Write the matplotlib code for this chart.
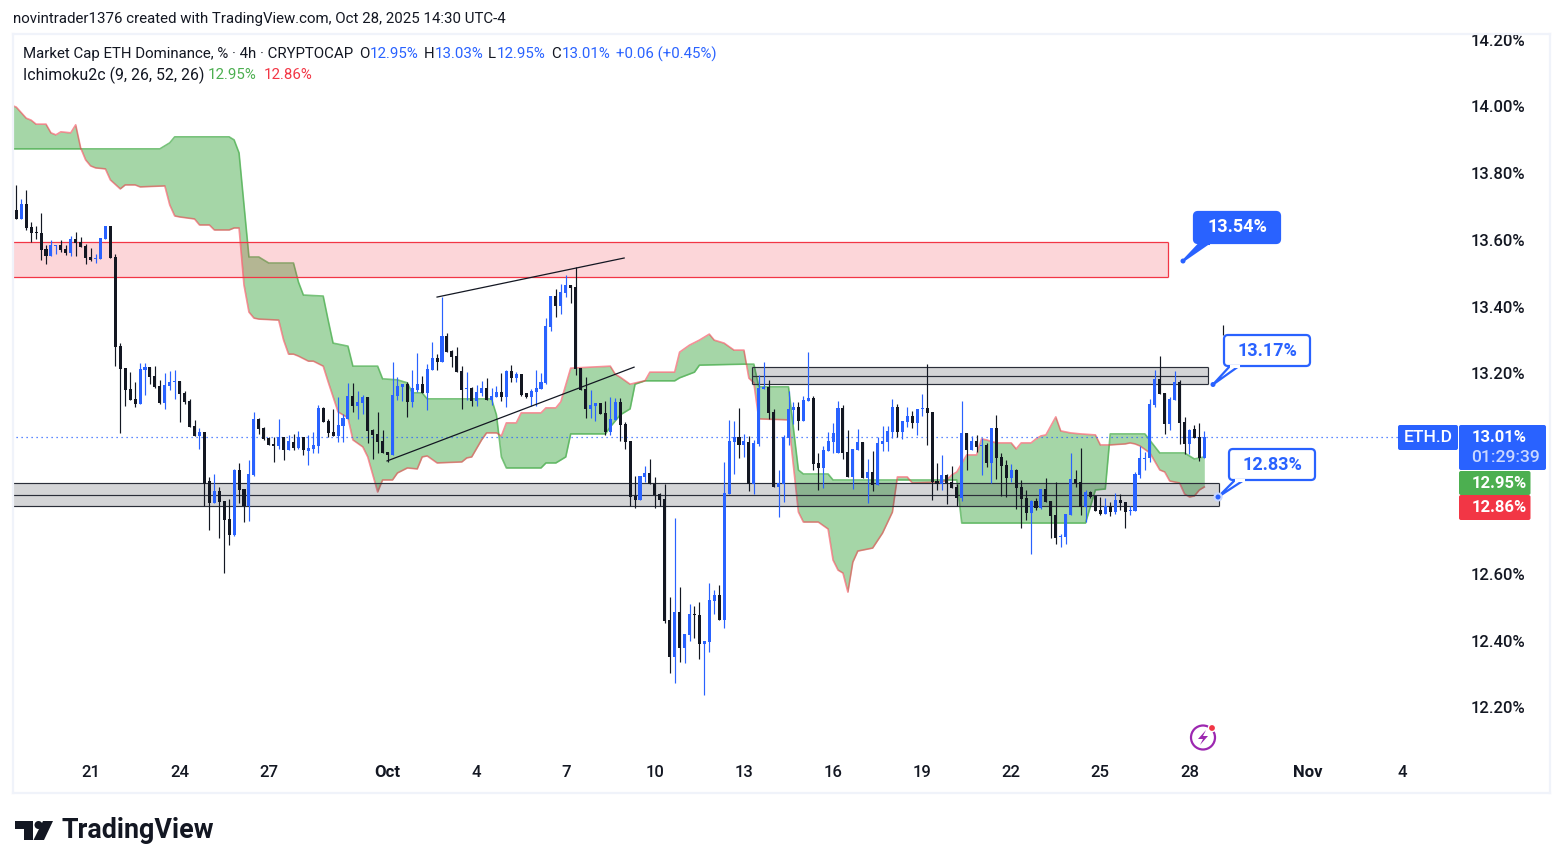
import numpy as np
import matplotlib
matplotlib.use("Agg")
import matplotlib.pyplot as plt
from matplotlib.patches import Rectangle, Polygon, Circle, FancyBboxPatch

plt.rcParams['font.family'] = ['Roboto', 'DejaVu Sans']

# ---- data -------------------------------------------------------------
opens = [13.690,13.663,13.708,13.639,13.624,13.621,13.573,13.552,13.583,13.585,13.573,13.561,13.603,13.594,13.582,13.549,13.544,13.543,13.603,13.642,13.549,
 13.282,13.216,13.153,13.123,13.108,13.210,13.219,13.192,13.162,13.111,13.162,13.174,13.177,13.141,13.117,13.042,13.012,13.024,12.877,12.811,12.847,12.817,12.763,12.715,12.910,12.853,12.802,12.895,13.063,13.036,13.006,12.988,12.982,13.009,12.970,12.994,12.976,13.009,12.967,12.973,12.982,13.096,13.057,13.024,13.012,13.042,13.063,13.132,13.102,13.111,13.129,13.030,13.018,12.997,12.964,12.955,
 13.132,13.159,13.168,13.114,13.150,13.168,13.141,13.210,13.246,13.234,13.312,13.267,13.252,13.207,13.153,13.156,13.117,13.141,13.156,13.120,13.129,13.144,13.129,13.207,13.186,13.198,13.141,13.129,13.144,13.153,13.171,13.339,13.432,13.402,13.441,13.465,13.459,13.216,13.153,13.093,13.102,13.111,13.081,13.024,13.060,13.114,13.048,
 12.997,12.832,12.820,12.889,12.901,12.870,12.838,12.823,12.460,12.352,12.484,12.379,12.418,12.478,12.475,12.391,12.397,12.517,12.535,12.460,12.838,12.994,13.009,
 12.985,12.994,12.868,12.988,13.153,13.159,13.084,12.859,12.868,13.006,13.090,13.099,13.057,13.117,13.126,12.931,12.916,12.967,12.994,12.961,13.096,12.964,12.889,12.970,12.994,12.886,12.904,12.865,12.988,12.994,13.024,13.099,13.024,13.054,13.072,13.051,13.093,13.096,13.084,12.877,12.868,12.895,12.874,
 12.859,12.826,13.021,12.970,12.997,12.982,12.985,12.931,13.036,12.949,12.925,12.886,12.910,12.859,12.826,12.781,12.817,12.796,12.853,12.817,12.775,12.709,12.709,12.775,12.883,12.874,12.799,12.844,12.832,12.790,12.778,12.802,12.784,12.820,12.814,12.787,12.787,12.895,12.943,
 12.946,13.105,13.183,13.141,13.048,13.120,13.174,13.054,12.988,13.033,13.009,12.946]
highs = [13.765,13.723,13.750,13.654,13.642,13.681,13.585,13.600,13.585,13.600,13.585,13.612,13.624,13.609,13.588,13.576,13.558,13.606,13.642,13.642,13.558,
 13.290,13.216,13.204,13.174,13.231,13.231,13.219,13.222,13.180,13.201,13.207,13.210,13.177,13.147,13.123,13.060,13.036,13.024,12.889,12.898,12.859,12.817,12.823,12.913,12.931,12.853,12.940,13.084,13.066,13.039,13.009,13.009,13.063,13.009,13.015,13.018,13.027,13.009,13.015,13.024,13.105,13.099,13.063,13.093,13.129,13.078,13.171,13.171,13.147,13.135,13.129,13.033,13.084,13.030,12.964,13.234,
 13.189,13.168,13.174,13.210,13.261,13.192,13.228,13.294,13.258,13.429,13.321,13.270,13.279,13.222,13.204,13.159,13.165,13.177,13.186,13.156,13.162,13.201,13.210,13.225,13.204,13.198,13.141,13.153,13.210,13.201,13.366,13.432,13.453,13.468,13.495,13.465,13.519,13.216,13.189,13.150,13.111,13.111,13.117,13.129,13.126,13.126,13.054,
 12.997,12.892,12.892,12.922,12.943,12.889,12.841,12.870,12.529,12.766,12.559,12.421,12.508,12.502,12.514,12.400,12.571,12.550,12.565,12.934,13.060,13.057,13.096,
 13.018,13.012,13.000,13.195,13.234,13.180,13.093,12.910,13.015,13.147,13.114,13.114,13.132,13.264,13.132,12.961,12.982,13.024,13.051,13.117,13.105,13.030,12.973,13.033,12.994,12.943,12.967,13.009,13.042,13.042,13.123,13.108,13.057,13.099,13.087,13.093,13.138,13.228,13.084,12.931,12.955,12.898,12.922,
 12.868,13.117,13.021,13.012,13.015,13.006,12.991,13.036,13.075,12.961,12.940,12.928,12.913,12.880,12.850,12.820,12.826,12.853,12.886,12.817,12.874,12.718,12.778,12.961,12.910,12.976,12.850,12.847,12.832,12.829,12.826,12.814,12.841,12.838,12.814,12.802,12.904,12.982,12.964,
 13.123,13.210,13.252,13.141,13.129,13.207,13.180,13.069,13.033,13.045,13.051,13.027]
lows = [13.663,13.663,13.630,13.594,13.603,13.540,13.528,13.552,13.558,13.564,13.555,13.552,13.552,13.579,13.528,13.537,13.531,13.543,13.603,13.546,13.222,
 13.022,13.102,13.120,13.099,13.108,13.135,13.168,13.156,13.108,13.093,13.150,13.123,13.054,13.108,13.039,13.012,12.973,12.802,12.730,12.811,12.706,12.601,12.685,12.712,12.811,12.754,12.757,12.892,13.018,13.000,12.985,12.934,12.973,12.940,12.970,12.970,12.973,12.955,12.925,12.961,12.961,13.054,13.009,13.012,12.994,12.994,13.063,13.084,13.063,13.078,12.991,12.943,12.961,12.961,12.934,12.955,
 13.120,13.117,13.069,13.099,13.144,13.141,13.090,13.210,13.210,13.234,13.264,13.219,13.204,13.093,13.120,13.102,13.102,13.132,13.120,13.105,13.129,13.117,13.099,13.174,13.174,13.132,13.126,13.102,13.102,13.153,13.168,13.327,13.369,13.378,13.429,13.411,13.195,13.150,13.066,13.066,13.057,13.078,13.015,13.015,13.060,12.997,12.973,
 12.802,12.796,12.820,12.874,12.870,12.796,12.802,12.451,12.304,12.274,12.337,12.334,12.400,12.409,12.346,12.238,12.367,12.478,12.460,12.439,12.838,12.898,12.946,
 12.949,12.847,12.838,12.982,13.153,13.063,12.859,12.769,12.814,12.985,13.048,13.030,13.057,13.117,12.910,12.850,12.856,12.967,12.961,12.961,12.943,12.889,12.853,12.970,12.886,12.811,12.847,12.865,12.967,12.967,13.006,13.009,13.003,13.039,13.036,13.015,13.072,12.985,12.820,12.850,12.850,12.808,12.856,
 12.802,12.817,12.910,12.970,12.964,12.895,12.919,12.871,12.883,12.832,12.829,12.874,12.793,12.736,12.760,12.658,12.790,12.793,12.814,12.706,12.688,12.679,12.688,12.775,12.859,12.775,12.754,12.826,12.787,12.775,12.778,12.772,12.778,12.790,12.736,12.775,12.787,12.886,12.910,
 12.934,13.099,13.138,13.018,13.030,13.120,12.988,12.958,12.958,13.006,12.937,12.946]
closes = [13.663,13.708,13.636,13.621,13.622,13.570,13.552,13.585,13.585,13.570,13.561,13.603,13.591,13.579,13.546,13.540,13.546,13.606,13.642,13.546,13.279,
 13.213,13.150,13.120,13.108,13.213,13.219,13.189,13.159,13.111,13.165,13.174,13.176,13.138,13.114,13.039,13.012,13.024,12.870,12.811,12.847,12.814,12.760,12.715,12.910,12.850,12.802,12.898,13.063,13.033,13.003,12.985,12.982,13.009,12.970,12.997,12.976,13.009,12.970,12.976,12.985,13.096,13.054,13.021,13.012,13.045,13.066,13.132,13.102,13.114,13.129,13.027,13.015,12.994,12.961,12.955,13.135,
 13.162,13.168,13.114,13.156,13.168,13.141,13.213,13.246,13.234,13.312,13.264,13.249,13.204,13.150,13.156,13.117,13.144,13.156,13.120,13.132,13.144,13.129,13.207,13.186,13.198,13.135,13.129,13.147,13.156,13.174,13.342,13.432,13.402,13.444,13.465,13.456,13.213,13.150,13.093,13.105,13.111,13.078,13.024,13.063,13.114,13.045,12.994,
 12.829,12.820,12.892,12.901,12.870,12.835,12.820,12.457,12.352,12.484,12.379,12.421,12.478,12.475,12.391,12.400,12.520,12.535,12.460,12.841,12.997,13.009,12.985,
 12.997,12.868,12.991,13.156,13.159,13.081,12.859,12.871,13.009,13.093,13.099,13.057,13.120,13.126,12.928,12.916,12.970,12.997,13.021,13.096,12.961,12.889,12.973,12.994,12.886,12.904,12.865,12.991,12.997,13.027,13.099,13.024,13.057,13.072,13.051,13.093,13.096,13.081,12.874,12.868,12.895,12.871,12.856,
 12.826,13.021,12.970,12.997,12.979,12.985,12.931,13.036,12.946,12.922,12.886,12.910,12.856,12.823,12.781,12.817,12.796,12.853,12.814,12.772,12.706,12.712,12.778,12.883,12.871,12.799,12.844,12.829,12.787,12.778,12.802,12.784,12.820,12.811,12.784,12.790,12.898,12.946,12.946,
 13.108,13.183,13.138,13.048,13.123,13.174,13.051,12.988,13.030,13.006,12.946,13.009]

span_a_bars = [-1,29,30,31,32,43,44,45,47,49,51,56,57,58,62,63,64,67,68,73,74,77,79,80,82,83,96,97,98,99,106,107,109,111,112,119,120,122,124,125,127,133,134,137,138,147,149,150,156,158,159,164,165,190,191,216,218,220,221,228,231,236,238,240]
span_a_vals = [13.873,13.873,13.882,13.891,13.909,13.909,13.900,13.861,13.549,13.549,13.531,13.531,13.474,13.435,13.432,13.360,13.291,13.282,13.222,13.222,13.184,13.181,13.172,13.142,13.142,13.124,13.124,13.076,12.950,12.917,12.917,12.932,12.932,12.950,13.019,13.019,13.040,13.076,13.094,13.168,13.178,13.178,13.187,13.204,13.225,13.228,13.228,13.160,13.160,12.911,12.899,12.899,12.881,12.881,12.752,12.752,12.851,12.854,13.019,13.019,12.962,12.962,12.944,12.950]
span_b_bars = [-1,0,2,3,4,6,7,8,9,11,12,13,14,15,16,18,19,21,22,24,25,30,31,32,33,36,37,39,40,43,44,45,46,47,48,49,53,54,55,56,57,59,60,62,63,65,67,68,70,71,73,74,76,77,79,81,82,83,85,90,91,92,94,95,97,98,99,101,102,106,107,109,110,111,112,120,121,122,124,126,127,128,133,134,136,138,140,141,143,145,147,148,149,150,156,158,159,162,164,165,166,167,168,169,170,173,175,177,178,180,181,187,188,189,190,192,194,195,196,198,201,202,203,205,206,207,208,210,211,213,215,218,219,221,224,225,226,227,229,231,232,233,235,236,237,238,239,240]
span_b_vals = [14.004,13.998,13.965,13.959,13.947,13.947,13.921,13.915,13.924,13.921,13.945,13.876,13.840,13.822,13.816,13.813,13.780,13.753,13.765,13.765,13.759,13.762,13.705,13.672,13.669,13.663,13.645,13.645,13.630,13.630,13.636,13.636,13.465,13.384,13.366,13.363,13.360,13.300,13.258,13.258,13.252,13.237,13.237,13.222,13.175,13.085,13.067,13.001,12.980,12.950,12.845,12.881,12.881,12.902,12.917,12.914,12.950,12.953,12.932,12.935,12.947,12.950,13.001,13.022,13.022,13.013,13.052,13.052,13.082,13.082,13.097,13.097,13.115,13.166,13.216,13.222,13.198,13.189,13.168,13.175,13.178,13.204,13.204,13.264,13.285,13.300,13.318,13.300,13.291,13.270,13.270,13.186,13.172,13.064,13.061,12.785,12.755,12.755,12.734,12.641,12.611,12.602,12.545,12.635,12.668,12.677,12.722,12.785,12.890,12.890,12.872,12.875,12.881,12.896,12.905,12.956,12.956,13.004,13.001,12.992,12.992,12.974,12.992,12.992,13.004,13.013,13.016,13.070,13.028,13.022,13.019,13.016,12.986,12.986,12.989,12.992,12.989,12.983,12.962,12.911,12.905,12.878,12.872,12.839,12.830,12.833,12.851,12.860]

y_ticks = [12.2,12.4,12.6,13.2,13.4,13.6,13.8,14.0,14.2]
x_tick_bars = [15,33,51,75,93,111,129,147,165,183,201,219,237,261,280]
x_tick_labels = ['21','24','27','Oct','4','7','10','13','16','19','22','25','28','Nov','4']
last_close = 13.01
supply_zone = (13.488, 13.593)
upper_band = (13.168, 13.192, 13.219)
lower_band = (12.802, 12.835, 12.871)

BLUE = '#2962FF'; INK = '#131722'; GREEN = '#4CAF50'; RED = '#F23645'; BAND = '#2A2E39'

# ---- figure -----------------------------------------------------------
W, H = 1563, 868
fig = plt.figure(figsize=(W/100, H/100), dpi=100, facecolor='white')
L, R, T, B = 13, 1550, 34, 793
ax = fig.add_axes([L/W, 1-B/H, (R-L)/W, (B-T)/H])
ax.set_xlim((L-16.3)/4.95, (R-16.3)/4.95)
ax.set_ylim(14.319-B*0.002996, 14.319-T*0.002996)
for s in ax.spines.values():
    s.set_color('#F0F3FA'); s.set_linewidth(1.6)

# cloud
xs = np.arange(-1, 241)
a = np.interp(xs, span_a_bars, span_a_vals)
b = np.interp(xs, span_b_bars, span_b_vals)
ax.fill_between(xs, a, b, color=GREEN, alpha=.5, lw=0, zorder=1)
ax.plot(xs, a, color=GREEN, lw=1.2, alpha=.75, zorder=1.2)
ax.plot(xs, b, color=RED, lw=1.2, alpha=.55, zorder=1.2)

# zones
ax.add_patch(Rectangle((-1, supply_zone[0]), 233.65, supply_zone[1]-supply_zone[0], fc=RED, alpha=.2, lw=0, zorder=1.5))
ax.hlines(supply_zone, -1, 232.65, color=RED, lw=0.9, zorder=1.6)
ax.vlines(232.65, *supply_zone, color=RED, lw=0.9, zorder=1.6)
for band, start, end in ((upper_band, 148.6, 240.75), (lower_band, -1, 242.9)):
    ax.add_patch(Rectangle((start, band[0]), end-start, band[2]-band[0], fc=BAND, alpha=.2, lw=0, zorder=1.5))
    ax.hlines(band, start, end, color=BAND, lw=0.85, zorder=1.6)
    ax.vlines([start, end] if start > 0 else [end], band[0], band[2], color=BAND, lw=0.85, zorder=1.6)

# candles
o, h, l, c = map(np.array, (opens, highs, lows, closes))
idx = np.arange(len(o))
cols = [BLUE if ci >= oi else INK for oi, ci in zip(o, c)]
ax.vlines(idx, l, h, colors=cols, lw=0.85, zorder=3)
ax.bar(idx, np.maximum(np.abs(c-o), 0.003), bottom=np.minimum(o, c), width=0.62, color=cols, lw=0, zorder=3.1)
ax.vlines(243.8, 13.315, 13.345, color=INK, lw=0.85, zorder=3)

# trend lines
ax.plot([85, 122.8], [13.429, 13.546], color=INK, lw=0.9, zorder=3.2)
ax.plot([74.9, 124.8], [12.938, 13.219], color=INK, lw=0.9, zorder=3.2)

# last price line
ax.hlines(last_close, -1, 280.5, color=BLUE, lw=0.9, linestyles=(0, (1, 3)), zorder=2)

# axes labels
ax.yaxis.tick_right()
ax.set_yticks(y_ticks)
ax.set_yticklabels([f'{t:.2f}%' for t in y_ticks], fontsize=12, color=INK, ha='left', fontweight='medium')
ax.tick_params(axis='y', length=0, pad=-57.5)
ax.set_xticks(x_tick_bars)
ax.set_xticklabels(x_tick_labels, fontsize=12, color=INK, fontweight='medium')
ax.tick_params(axis='x', length=0, pad=-20)
for lab in ax.get_xticklabels():
    if lab.get_text() in ('Oct', 'Nov'):
        lab.set_fontweight('bold')

# ---- overlay in pixels --------------------------------------------------
ov = fig.add_axes([0, 0, 1, 1], facecolor='none')
ov.set_xlim(0, W); ov.set_ylim(H, 0); ov.axis('off')
FS = 10.8
ov.text(13, 19.5, 'novintrader1376 created with TradingView.com, Oct 28, 2025 14:30 UTC-4', fontsize=FS, color=INK, va='center')
ov.text(23, 54, 'Market Cap ETH Dominance, % · 4h · CRYPTOCAP', fontsize=FS, color=INK, va='center')
for x, txt, col in ((359, 'O', INK), (370, '12.95%', BLUE), (424, 'H', INK), (435, '13.03%', BLUE), (488, 'L', INK),
                    (497, '12.95%', BLUE), (551, 'C', INK), (562, '13.01%', BLUE), (616, '+0.06 (+0.45%)', BLUE)):
    ov.text(x, 54, txt, fontsize=FS, color=col, va='center')
ov.text(23, 75, 'Ichimoku2c (9, 26, 52, 26)', fontsize=11.4, color=INK, va='center')
ov.text(208, 75, '12.95%', fontsize=FS, color=GREEN, va='center')
ov.text(264, 75, '12.86%', fontsize=FS, color=RED, va='center')

def box(x0, y0, x1, y1, fc, ec=None, r=2, lw=0, z=6):
    ov.add_patch(FancyBboxPatch((x0+r, y0+r), x1-x0-2*r, y1-y0-2*r, boxstyle=f'round,pad={r},rounding_size={r}',
                                fc=fc, ec=ec or fc, lw=lw, zorder=z))

# price labels
box(1398, 425, 1458, 450, BLUE)
box(1459, 425, 1546, 470, BLUE)
box(1459, 471, 1530.5, 495, GREEN)
box(1459, 495, 1530.5, 520, RED)
ov.text(1428, 437.5, 'ETH.D', color='white', fontsize=12.6, fontweight='medium', ha='center', va='center', zorder=7)
ov.text(1499, 438, '13.01%', color='white', fontsize=12, fontweight='bold', ha='center', va='center', zorder=7)
ov.text(1505, 458, '01:29:39', color='#C9D7FF', fontsize=12.6, fontweight='medium', ha='center', va='center', zorder=7)
ov.text(1499, 483.5, '12.95%', color='white', fontsize=12, fontweight='bold', ha='center', va='center', zorder=7)
ov.text(1499, 507.5, '12.86%', color='white', fontsize=12, fontweight='bold', ha='center', va='center', zorder=7)

# callouts
def callout(x0, y0, x1, y1, tip, txt, filled, halo=False):
    fc = BLUE if filled else 'white'
    box(x0, y0, x1, y1, fc, BLUE, r=4, lw=1.6, z=6)
    base0, base1 = x0+6, x0+15
    ov.add_patch(Polygon([(base0, y1), tip, (base1, y1)], closed=False, fc=fc, ec=BLUE, lw=1.6, zorder=6.1, joinstyle='round'))
    ov.plot([base0+1, base1-1], [y1, y1], color=fc, lw=2.2, zorder=6.2)
    ov.text((x0+x1)/2, (y0+y1)/2, txt, color='white' if filled else BLUE, fontsize=13, fontweight='bold',
            ha='center', va='center', zorder=7)
    if halo:
        ov.add_patch(Circle(tip, 4.6, fc='#C9D7FF', ec='none', zorder=6.9))
    ov.add_patch(Circle(tip, 2.5, fc=BLUE, ec='none', zorder=7))

callout(1194, 212, 1280, 243, (1183, 261), '13.54%', True)
callout(1224, 335, 1310, 366, (1213, 384.5), '13.17%', False)
callout(1229, 449, 1315, 480, (1218, 497), '12.83%', False, halo=True)

# lightning badge
ov.add_patch(Circle((1203, 737.5), 12, fc='white', ec='#9C27B0', lw=1.6, zorder=5))
ov.add_patch(Polygon([(1206, 730), (1198, 739), (1203, 739), (1200, 745), (1208, 736), (1203, 736)], fc='#9C27B0', ec='none', zorder=5.1))
ov.add_patch(Circle((1212, 728), 3.6, fc=RED, ec='white', lw=1, zorder=5.2))

# TradingView logo
ov.add_patch(Polygon([(15, 821), (33, 821), (33, 840), (24, 840), (24, 829), (15, 829)], fc=INK, ec='none'))
ov.add_patch(Circle((38.5, 825), 4, fc=INK, ec='none'))
ov.add_patch(Polygon([(43, 821), (53, 821), (44, 840), (33.5, 840)], fc=INK, ec='none'))
ov.text(61, 831, 'TradingView', fontsize=19.4, fontweight='bold', color=INK, va='center')

fig.savefig('out.png', dpi=100, facecolor='white')
